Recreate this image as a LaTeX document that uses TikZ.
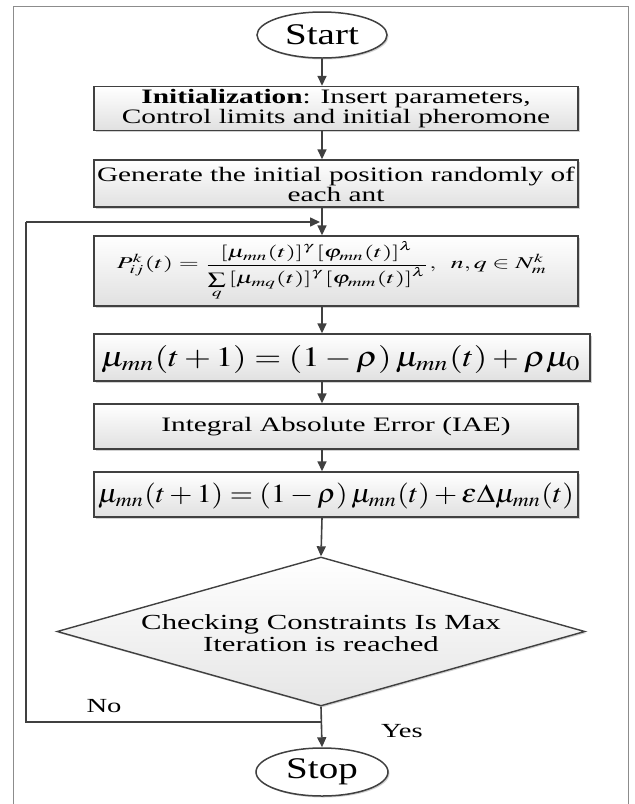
\documentclass[tikz,border=0pt]{standalone}
\usepackage{mathptmx}
\usepackage[no-math]{fontspec}
\setmainfont{Liberation Serif}[FakeStretch=1.43]
\newfontfamily\termfont{Liberation Serif}[FakeStretch=1.3]
\usepackage{graphicx}
\usetikzlibrary{shapes.geometric,arrows.meta,shadows}
\definecolor{ln}{HTML}{404040}
\definecolor{fr}{HTML}{8C8C8C}
\begin{document}
\begin{tikzpicture}[x=1pt,y=-1pt,
  line/.style={draw=ln, line width=1.6pt},
  arr/.style={line, -{Triangle[length=10pt,width=9pt]}},
  shad/.style={drop shadow={shadow xshift=1.5pt, shadow yshift=-1.5pt, opacity=0.3, fill=black!60}},
  boxst/.style={rectangle, draw=ln, line width=1.4pt, top color=white, bottom color=black!12, shad, inner sep=0pt},
  txt/.style={inner sep=0pt, align=center, font=\fontsize{20.5}{20}\selectfont},
  term/.style={ellipse, draw=ln, line width=1.5pt, fill=white, shad, inner sep=0pt, font=\termfont\fontsize{30}{30}\selectfont},
  lbl/.style={inner sep=0pt, font=\fontsize{20}{20}\selectfont},
]
\useasboundingbox (0,0) rectangle (635,804);
% frame
\draw[fr, line width=1pt] (13,804) -- (13,6) -- (628,6) -- (628,804);
\coordinate (ax) at (322,0);

\node[term, minimum width=130pt, minimum height=46pt] (start) at (322,35) {Start};

\node[boxst, minimum width=484pt, minimum height=44pt] (init) at (336,108.5) {};
\node[txt] (initt) at (336,109) {\textbf{Initialization}: Insert parameters,\\Control limits and initial pheromone};

\node[boxst, minimum width=484pt, minimum height=47pt] (gen) at (336,183.5) {};
\node[txt] (gent) at (336,184) {Generate the initial position randomly of\\each ant};

\node[boxst, minimum width=484pt, minimum height=70pt] (prob) at (336,271) {};
\node[inner sep=0pt] (probt) at (332,271) {\resizebox*{430pt}{60pt}{$\displaystyle P_{ij}^{k}(t)=\frac{\left[\mu_{mn}(t)\right]^{\gamma}\left[\varphi_{mn}(t)\right]^{\lambda}}{\sum\limits_{q}\left[\mu_{mq}(t)\right]^{\gamma}\left[\varphi_{mm}(t)\right]^{\lambda}},\;\; n,q\in N_{m}^{k}$}};

\node[boxst, minimum width=496pt, minimum height=47pt] (upd) at (342,357.5) {};
\node[inner sep=0pt] (updt) at (341,359) {\resizebox*{480pt}{28pt}{$\mu_{mn}(t+1)=(1-\rho)\,\mu_{mn}(t)+\rho\mu_{0}$}};

\node[boxst, minimum width=484pt, minimum height=45pt] (iae) at (336,426.5) {};
\node[txt] (iaet) at (iae) {Integral Absolute Error (IAE)};

\node[boxst, minimum width=484pt, minimum height=45pt] (eps) at (336,494.5) {};
\node[inner sep=0pt] (epst) at (336,496) {\resizebox*{476pt}{26pt}{$\mu_{mn}(t+1)=(1-\rho)\,\mu_{mn}(t)+\varepsilon\Delta\mu_{mn}(t)$}};

\node[diamond, draw=ln, line width=1.4pt, top color=white, bottom color=black!10, shad, inner sep=0pt, minimum width=528pt, minimum height=149pt] (dia) at (321,631.5) {};
\node[txt, font=\fontsize{21.5}{22}\selectfont] (diat) at (321,633) {Checking Constraints Is Max\\Iteration is reached};

\node[term, minimum width=132pt, minimum height=48pt] (stop) at (322,772) {Stop};

\node[lbl] (no) at (104,706) {No};
\node[lbl] (yes) at (402,731) {Yes};

\coordinate (lb) at (26,722);
\coordinate (lt) at (26,222);

\draw[arr] (start) -- (ax |- init.north);
\draw[arr] (ax |- init.south) -- (ax |- gen.north);
\draw[arr] (ax |- gen.south) -- (ax |- prob.north);
\draw[arr] (ax |- prob.south) -- (ax |- upd.north);
\draw[arr] (ax |- upd.south) -- (ax |- iae.north);
\draw[arr] (ax |- iae.south) -- (ax |- eps.north);
\draw[arr] (ax |- eps.south) -- (dia.north);
\draw[arr] (dia.south) -- (stop.north);
\draw[line] (ax |- lb) -- (lb) -- (lt);
\draw[arr] (lt) -- ([xshift=-2pt]ax |- lt);
\end{tikzpicture}
\end{document}
